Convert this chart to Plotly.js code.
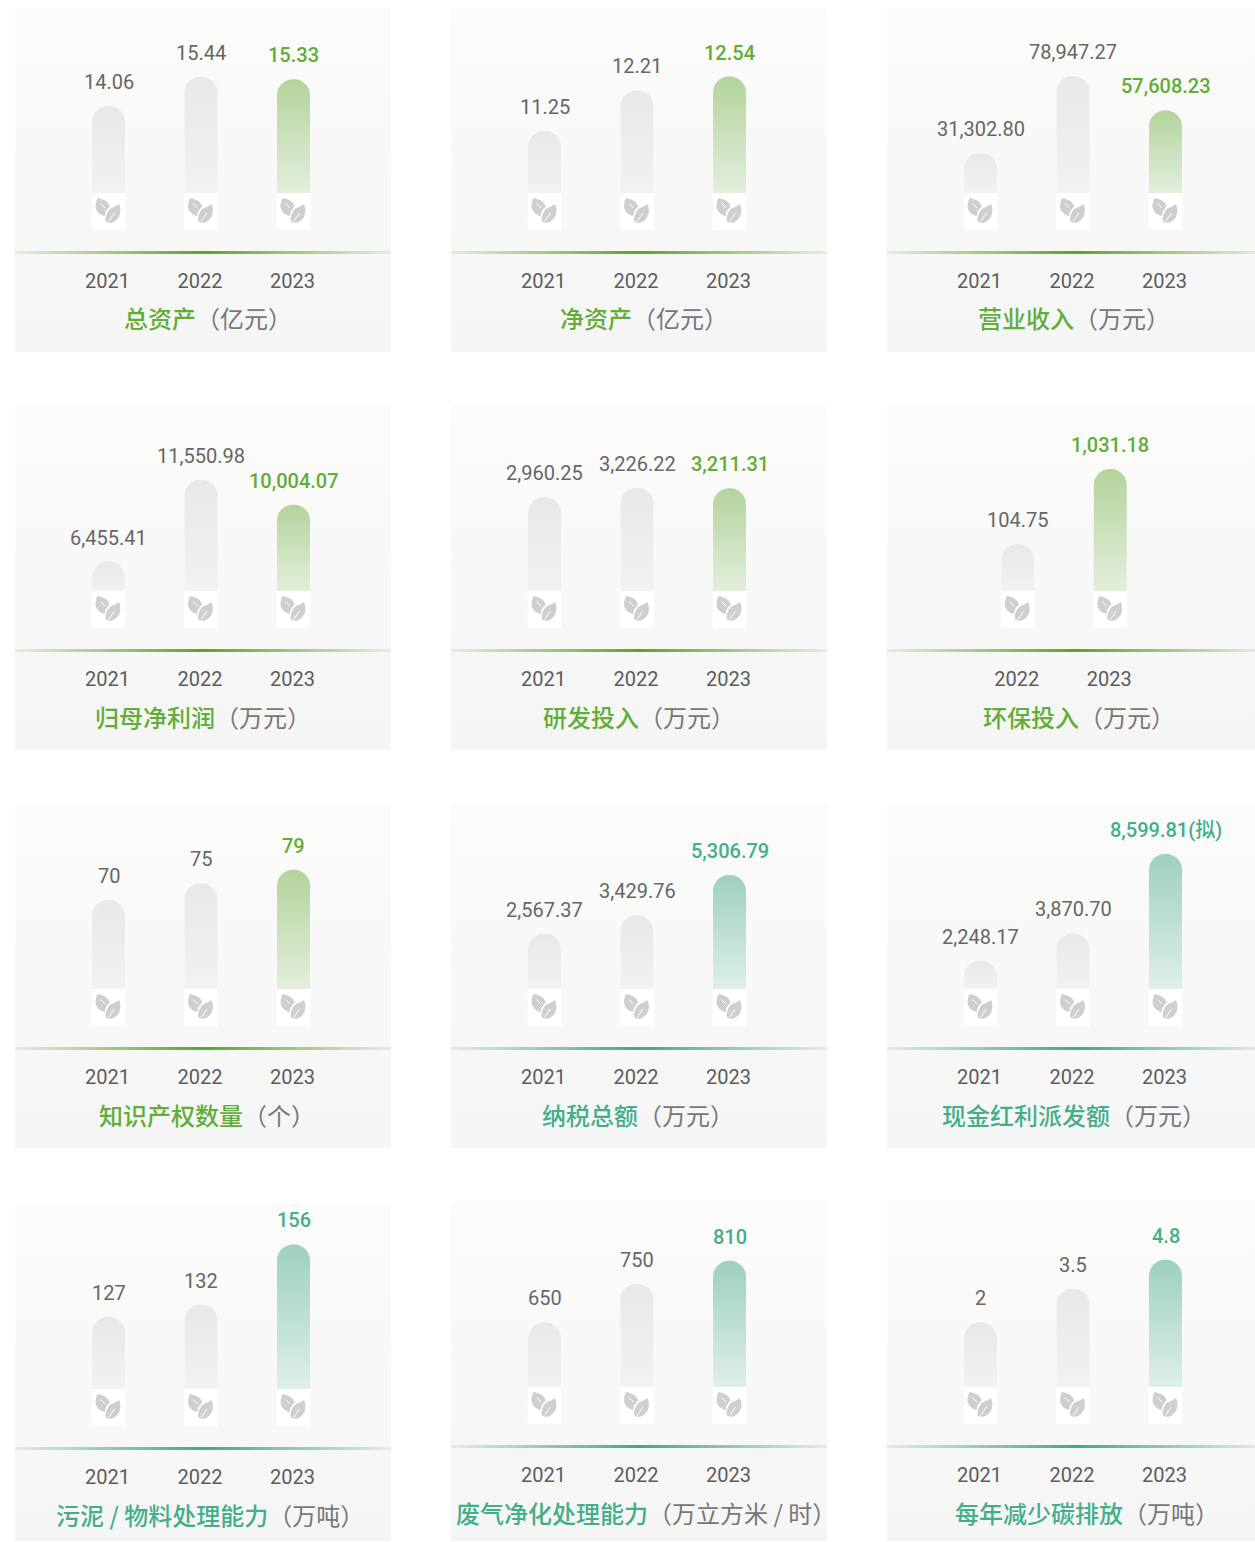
<!DOCTYPE html>
<html><head><meta charset="utf-8">
<script src="https://cdn.plot.ly/plotly-3.0.1.min.js"></script>
<style>html,body{margin:0;padding:0;background:#fff;overflow:hidden}#c{width:1255px;height:1542px}</style>
</head><body><div id="c"></div>
<script>
// Chart data
const years3 = [2021,2022,2023];
const years2 = [2022,2023];
const titleMain = ['总资产','净资产','营业收入','归母净利润','研发投入','环保投入','知识产权数量','纳税总额','现金红利派发额','污泥 / 物料处理能力','废气净化处理能力','每年减少碳排放'];
const titleUnit = ['（亿元）','（亿元）','（万元）','（万元）','（万元）','（万元）','（个）','（万元）','（万元）','（万吨）','（万立方米 / 时）','（万吨）'];
const v1 = [14.06,15.44,15.33];
const v2 = [11.25,12.21,12.54];
const v3 = [31302.80,78947.27,57608.23];
const v4 = [6455.41,11550.98,10004.07];
const v5 = [2960.25,3226.22,3211.31];
const v6 = [104.75,1031.18];
const v7 = [70,75,79];
const v8 = [2567.37,3429.76,5306.79];
const v9 = [2248.17,3870.70,8599.81];
const v10 = [127,132,156];
const v11 = [650,750,810];
const v12 = [2,3.5,4.8];
const l1 = ['14.06','15.44','15.33'];
const l2 = ['11.25','12.21','12.54'];
const l3 = ['31,302.80','78,947.27','57,608.23'];
const l4 = ['6,455.41','11,550.98','10,004.07'];
const l5 = ['2,960.25','3,226.22','3,211.31'];
const l6 = ['104.75','1,031.18'];
const l7 = ['70','75','79'];
const l8 = ['2,567.37','3,429.76','5,306.79'];
const l9 = ['2,248.17','3,870.70','8,599.81(拟)'];
const l10 = ['127','132','156'];
const l11 = ['650','750','810'];
const l12 = ['2','3.5','4.8'];
const values = [v1,v2,v3,v4,v5,v6,v7,v8,v9,v10,v11,v12];
const labels = [l1,l2,l3,l4,l5,l6,l7,l8,l9,l10,l11,l12];
// Each panel has its own truncated value axis, as in the source graphic.
const yRanges = [[9.943,18.70],[9.775,14.17],[6550,121030],[4618,16155],[260.7,5574],[-475.8,1809.3],[43.52,98.58],[0,8612],[561.5,11571],[98.33,172.1],[482.6,962.3],[-0.902,7.394]];

// Style and geometry
const W = 1255, H = 1542, PANEL_W = 376, AXIS_LEN = 185, STEP = 92.5, BAR_W = 33;
const colX = [15,451,887];
const panelTop = [8,8,8,406,406,406,804,804,804,1204,1202,1202];
const panelBottom = [352,352,352,750,750,750,1148,1148,1148,1541,1541,1541];
const titleShift = [7,7,1,2,2,6,6,1,1,9,9,14];
const GREEN = {main:'#62ad38', top:'#b3d39b', bottom:'#e3eedc', line:'#5ba32d', edge:'#e6efde'};
const TEAL = {main:'#44ae8b', top:'#9dd0bd', bottom:'#deefe9', line:'#3eaa86', edge:'#dcefe8'};
const accents = [GREEN,GREEN,GREEN,GREEN,GREEN,GREEN,GREEN,TEAL,TEAL,TEAL,TEAL,TEAL];
const GREY_TOP = '#e8e8e8', GREY_BOTTOM = '#f2f2f2';
const LATIN = 'Roboto, "Noto Sans CJK SC", sans-serif';
const CJK = '"Noto Sans CJK SC", Roboto, sans-serif';

const uri = s => 'data:image/svg+xml;charset=utf-8,' + encodeURIComponent(s);
const vGrad = (a,b) => uri(`<svg xmlns="http://www.w3.org/2000/svg" width="376" height="340" preserveAspectRatio="none" viewBox="0 0 376 340"><defs><linearGradient id="g" x1="0" y1="0" x2="0" y2="1"><stop offset="0" stop-color="${a}"/><stop offset="1" stop-color="${b}"/></linearGradient></defs><rect width="376" height="340" fill="url(#g)"/></svg>`);
const hGrad = c => uri(`<svg xmlns="http://www.w3.org/2000/svg" width="376" height="3" preserveAspectRatio="none" viewBox="0 0 376 3"><defs><linearGradient id="g" x1="0" y1="0" x2="1" y2="0"><stop offset="0" stop-color="${c.edge}"/><stop offset="0.5" stop-color="${c.line}"/><stop offset="1" stop-color="${c.edge}"/></linearGradient></defs><rect width="376" height="3" fill="url(#g)"/></svg>`);
const leafBox = uri(`<svg xmlns="http://www.w3.org/2000/svg" width="34" height="37" viewBox="0 0 34 37"><rect width="34" height="37" fill="#fff"/><path fill="#cfcfcf" d="M6 5C12 6 18 9 18 14C15 16 13 20 13.500 23C8 22 4 18 4 13C4 10 5 7 6 5Z"/><path fill="#cfcfcf" d="M27.500 11C30.500 18 29 26 21 29.500C17 30.500 14 29 14 27C14 22 17 16 20 15C22 14 25 13 27.500 11Z"/><path d="M9 10.500L13.500 15M17 28.500L23 20" stroke="#fff" stroke-width="1" fill="none"/></svg>`);

const traces = [], images = [], annotations = [], layout = {
  width:W, height:H, margin:{l:0,r:0,t:0,b:0}, paper_bgcolor:'#fff', plot_bgcolor:'rgba(0,0,0,0)',
  showlegend:false, barmode:'group', bargap:1-BAR_W/STEP, hovermode:false
};
const px = x => x/W, py = y => 1-y/H;

values.forEach((vals,i) => {
  const n = i+1, suffix = n===1?'':String(n), ax = 'x'+suffix, ay = 'y'+suffix;
  const x0 = colX[i%3], top = panelTop[i], bottom = panelBottom[i], base = top+AXIS_LEN;
  const yrs = vals.length===3 ? years3 : years2;
  const panelCenter = x0 + 186;
  const left = x0 + (yrs.length===3 ? 186 : 177) - yrs.length*STEP/2;
  const accent = accents[i];
  const low = yRanges[i][0], high = yRanges[i][1];

  // Where the axis starts below zero, bars start below the axis floor (clipped) so they reach the baseline square.
  const trace = {type:'bar', x:yrs, y:vals, xaxis:ax, yaxis:ay,
    marker:{color:yrs.map((_,k)=>k===yrs.length-1?accent.top:GREY_TOP), cornerradius:BAR_W/2, line:{width:0}},
    hoverinfo:'skip'};
  if (low < 0) { const floor = low - 0.15*(high-low); trace.base = floor; trace.y = vals.map(v => v - floor); }
  traces.push(trace);

  layout['xaxis'+suffix] = {domain:[px(left),px(left+yrs.length*STEP)], anchor:ay, type:'linear',
    range:[yrs[0]-0.5, yrs[yrs.length-1]+0.5], tickmode:'array', tickvals:yrs, ticktext:yrs.map(String),
    showgrid:false, zeroline:false, showline:false, ticks:'', ticklabelshift:-1, ticklabelstandoff:74,
    tickfont:{family:LATIN,size:20,color:'#5c5c5c'}};
  layout['yaxis'+suffix] = {domain:[py(base),py(top)], anchor:ax, range:yRanges[i], visible:false, showgrid:false, zeroline:false};

  images.push({source:vGrad('#fbfbfa','#f5f5f5'), xref:'paper', yref:'paper', x:px(x0), y:py(top), sizex:PANEL_W/W, sizey:(bottom-top)/H,
    xanchor:'left', yanchor:'top', sizing:'stretch', layer:'below'});
  images.push({source:hGrad(accent), xref:'paper', yref:'paper', x:px(x0), y:py(base+58), sizex:PANEL_W/W, sizey:3/H,
    xanchor:'left', yanchor:'top', sizing:'stretch', layer:'above'});

  yrs.forEach((yr,k) => {
    const cx = left + (k+0.5)*STEP;
    images.push({source:leafBox, xref:'paper', yref:'paper', x:px(cx), y:py(base), sizex:34/W, sizey:37/H,
      xanchor:'center', yanchor:'top', sizing:'stretch', layer:'above'});
    const last = k===yrs.length-1;
    annotations.push({xref:ax, yref:ay, x:yr, y:vals[k], text:labels[i][k], showarrow:false, yanchor:'middle', xanchor:'center', yshift:24,
      font:{family:LATIN, size:20, color:last?accent.main:'#666666', weight:last?500:400}});
  });

  annotations.push({xref:'paper', yref:'paper', x:px(panelCenter+titleShift[i]), y:py(base+125), showarrow:false, xanchor:'center', yanchor:'middle',
    text:`<span style="color:${accent.main};font-weight:500">${titleMain[i]}</span><span style="color:#777777">${titleUnit[i]}</span>`,
    font:{family:CJK,size:24,color:'#777777'}});
});
layout.images = images;
layout.annotations = annotations;

Plotly.newPlot('c', traces, layout, {displayModeBar:false, staticPlot:true}).then(gd => {
  // Bars in the source fade from their top down to the axis baseline.
  const svg = gd.querySelector('.main-svg');
  let defs = svg.querySelector('defs');
  const NS = 'http://www.w3.org/2000/svg';
  gd.querySelectorAll('.barlayer .trace').forEach((tr,i) => {
    const bars = tr.querySelectorAll('.point path');
    bars.forEach((p,k) => {
      const bb = p.getBBox();
      const last = k===bars.length-1;
      const g = document.createElementNS(NS,'linearGradient');
      g.setAttribute('id',`bar-${i}-${k}`);
      g.setAttribute('gradientUnits','userSpaceOnUse');
      g.setAttribute('x1',0); g.setAttribute('x2',0);
      g.setAttribute('y1',bb.y); g.setAttribute('y2',AXIS_LEN);
      [[0,last?accents[i].top:GREY_TOP],[1,last?accents[i].bottom:GREY_BOTTOM]].forEach(([o,c])=>{
        const s = document.createElementNS(NS,'stop');
        s.setAttribute('offset',o); s.setAttribute('stop-color',c); g.appendChild(s);
      });
      defs.appendChild(g);
      p.style.fill = `url(#bar-${i}-${k})`;
    });
  });
});
</script>
</body></html>
